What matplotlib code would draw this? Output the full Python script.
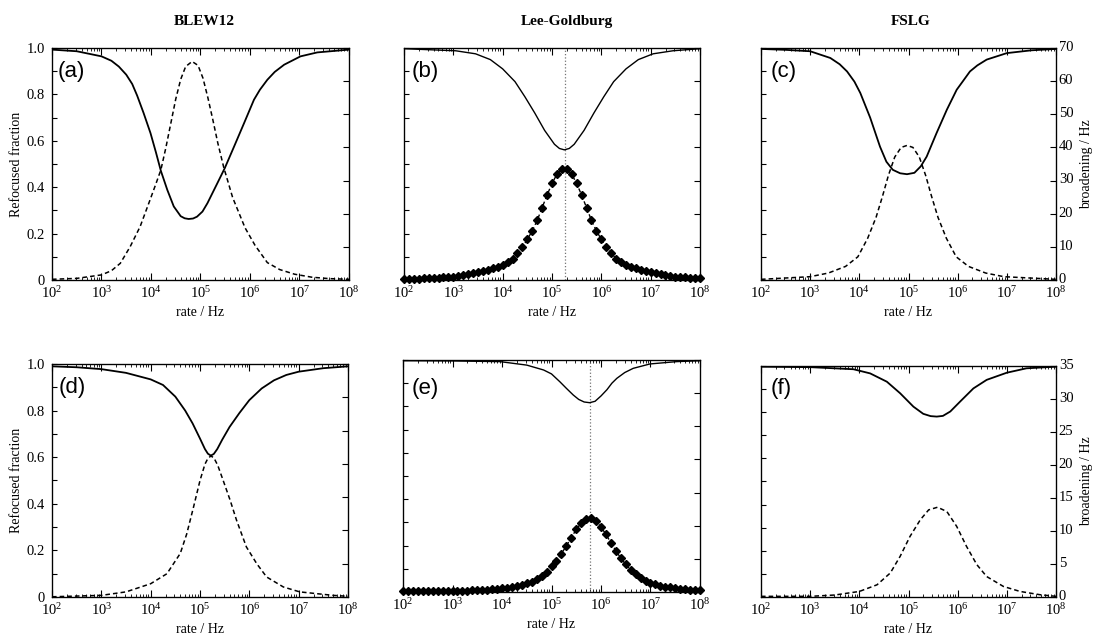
import numpy as np
import matplotlib.pyplot as plt
import matplotlib.transforms as mtransforms
from matplotlib.ticker import (MultipleLocator, LogLocator, FixedLocator, NullFormatter,
                               NullLocator, FuncFormatter)

plt.rcParams['font.family'] = ['Liberation Serif', 'DejaVu Serif']
plt.rcParams['mathtext.fontset'] = 'custom'
plt.rcParams['mathtext.rm'] = 'Liberation Serif'
plt.rcParams['mathtext.it'] = 'Liberation Serif:italic'
plt.rcParams['mathtext.bf'] = 'Liberation Serif:bold'

# x values are log10(rate / Hz)
# (a) BLEW12, top row
a_solid_u = [2.0, 2.5, 3.0, 3.2, 3.35, 3.5, 3.62, 3.72, 3.85, 3.99, 4.1, 4.2, 4.33, 4.46, 4.6,
             4.68, 4.76, 4.85, 4.93, 5.04, 5.14, 5.34, 5.49, 5.68, 5.88, 6.08, 6.2, 6.35, 6.5,
             6.69, 7.02, 7.36, 8.0]
a_solid_v = [0.993, 0.986, 0.964, 0.945, 0.92, 0.885, 0.845, 0.795, 0.72, 0.633, 0.55, 0.47, 0.388,
             0.317, 0.275, 0.266, 0.263, 0.265, 0.273, 0.295, 0.331, 0.417, 0.482, 0.576, 0.676,
             0.777, 0.82, 0.863, 0.897, 0.928, 0.964, 0.981, 0.993]
a_dash_u = [2.0, 2.5, 3.0, 3.2, 3.38, 3.58, 3.78, 3.98, 4.1, 4.2, 4.3, 4.4, 4.5, 4.6, 4.7, 4.83,
            4.95, 5.05, 5.15, 5.25, 5.35, 5.47, 5.65, 5.9, 6.1, 6.35, 6.6, 6.9, 7.25, 7.6, 8.0]
a_dash_v = [0.003, 0.007, 0.022, 0.04, 0.072, 0.144, 0.23, 0.345, 0.415, 0.475, 0.57, 0.675, 0.78,
            0.865, 0.92, 0.942, 0.925, 0.87, 0.785, 0.69, 0.59, 0.485, 0.355, 0.225, 0.15, 0.075,
            0.045, 0.025, 0.012, 0.006, 0.003]

# (b) Lee-Goldburg, top row
b_solid_u = [2.0, 3.05, 3.45, 3.75, 4.0, 4.25, 4.45, 4.65, 4.85, 5.05, 5.15, 5.25, 5.35, 5.45,
             5.65, 5.85, 6.05, 6.25, 6.5, 6.75, 7.05, 7.45, 8.0]
b_solid_v = [0.997, 0.988, 0.975, 0.95, 0.91, 0.855, 0.79, 0.72, 0.645, 0.585, 0.567, 0.561, 0.567,
             0.585, 0.645, 0.72, 0.79, 0.855, 0.91, 0.95, 0.975, 0.988, 0.997]
lg_u = np.linspace(2.0, 8.0, 61)
b_diam = [0.004, 0.004, 0.005, 0.006, 0.007, 0.008, 0.009, 0.010, 0.011, 0.013,
          0.015, 0.018, 0.021, 0.025, 0.029, 0.033, 0.038, 0.043, 0.050, 0.057,
          0.066, 0.077, 0.092, 0.115, 0.142, 0.175, 0.212, 0.257, 0.312, 0.366,
          0.416, 0.456, 0.478, 0.478, 0.456, 0.416, 0.366, 0.312, 0.257, 0.212,
          0.175, 0.142, 0.115, 0.092, 0.077, 0.066, 0.057, 0.050, 0.043, 0.038,
          0.033, 0.029, 0.025, 0.021, 0.018, 0.015, 0.013, 0.011, 0.010, 0.009, 0.008]
b_mark = 5.26

# (c) FSLG, top row (broadening in Hz)
c_solid_u = [2.0, 2.5, 3.0, 3.41, 3.6, 3.75, 3.9, 4.02, 4.22, 4.42, 4.55, 4.68, 4.83, 4.97, 5.12,
             5.25, 5.37, 5.57, 5.78, 5.98, 6.1, 6.25, 6.4, 6.59, 7.0, 7.5, 8.0]
c_solid_v = [0.996, 0.992, 0.986, 0.957, 0.93, 0.899, 0.855, 0.806, 0.70, 0.575, 0.51, 0.475, 0.46,
             0.456, 0.462, 0.49, 0.532, 0.633, 0.734, 0.82, 0.855, 0.899, 0.925, 0.95, 0.978, 0.99,
             0.996]
c_dash_u = [2.0, 3.0, 3.37, 3.72, 3.97, 4.17, 4.34, 4.47, 4.59, 4.72, 4.85, 4.97, 5.09, 5.22,
            5.35, 5.47, 5.6, 5.77, 5.97, 6.22, 6.57, 6.94, 8.0]
c_dash_hz = [0.2, 1.0, 2.1, 4.1, 7.0, 12.6, 18.9, 25.2, 31.5, 37.1, 40.0, 40.6, 40.0, 37.1, 31.5,
             25.2, 18.9, 12.6, 7.0, 4.1, 2.1, 1.0, 0.2]

# (d) BLEW12, bottom row
d_solid_u = [2.0, 2.5, 3.0, 3.5, 4.0, 4.25, 4.5, 4.7, 4.85, 5.0, 5.1, 5.16, 5.22, 5.28, 5.35,
             5.45, 5.6, 5.8, 6.0, 6.25, 6.5, 6.75, 7.0, 7.5, 8.0]
d_solid_v = [0.99, 0.986, 0.978, 0.962, 0.934, 0.91, 0.86, 0.80, 0.745, 0.68, 0.635, 0.615, 0.607,
             0.614, 0.635, 0.675, 0.73, 0.79, 0.845, 0.895, 0.93, 0.953, 0.967, 0.982, 0.99]
d_dash_u = [2.0, 3.0, 3.5, 4.0, 4.33, 4.6, 4.73, 4.87, 5.0, 5.1, 5.16, 5.22, 5.28, 5.36, 5.47,
            5.61, 5.74, 5.94, 6.15, 6.35, 6.69, 7.02, 7.7, 8.0]
d_dash_v = [0.001, 0.007, 0.022, 0.057, 0.10, 0.187, 0.27, 0.387, 0.50, 0.57, 0.595, 0.605, 0.598,
            0.565, 0.50, 0.416, 0.33, 0.215, 0.143, 0.086, 0.043, 0.022, 0.007, 0.003]

# (e) Lee-Goldburg, bottom row
e_solid_u = [2.0, 3.0, 3.96, 4.5, 4.84, 5.0, 5.17, 5.3, 5.44, 5.55, 5.66, 5.77, 5.88, 6.0, 6.12,
             6.22, 6.32, 6.48, 6.65, 6.99, 7.53, 8.0]
e_solid_v = [0.997, 0.996, 0.993, 0.978, 0.957, 0.94, 0.906, 0.878, 0.849, 0.83, 0.819, 0.816, 0.822,
             0.845, 0.872, 0.9, 0.921, 0.946, 0.964, 0.983, 0.993, 0.997]
e_diam = [0.003, 0.003, 0.003, 0.003, 0.003, 0.003, 0.004, 0.004, 0.004, 0.005,
          0.005, 0.005, 0.006, 0.006, 0.007, 0.007, 0.009, 0.010, 0.011, 0.013,
          0.016, 0.018, 0.022, 0.026, 0.031, 0.038, 0.045, 0.056, 0.070, 0.087,
          0.110, 0.135, 0.165, 0.199, 0.234, 0.270, 0.297, 0.315, 0.318, 0.305,
          0.281, 0.248, 0.213, 0.178, 0.146, 0.119, 0.095, 0.076, 0.060, 0.049,
          0.040, 0.033, 0.028, 0.023, 0.020, 0.017, 0.014, 0.012, 0.010, 0.009, 0.008]
e_mark = 5.77

# (f) FSLG, bottom row (broadening in Hz)
f_solid_u = [2.0, 3.0, 3.88, 4.22, 4.56, 4.83, 5.1, 5.3, 5.45, 5.575, 5.7, 5.85, 6.05, 6.32, 6.59,
             7.0, 7.4, 8.0]
f_solid_v = [0.997, 0.995, 0.986, 0.968, 0.932, 0.882, 0.824, 0.793, 0.783, 0.781, 0.784, 0.803,
             0.846, 0.903, 0.94, 0.971, 0.99, 0.997]
f_dash_u = [2.0, 3.0, 3.5, 4.0, 4.36, 4.63, 4.83, 5.03, 5.24, 5.41, 5.59, 5.78, 5.98, 6.18, 6.39,
            6.59, 6.93, 7.27, 7.67, 8.0]
f_dash_hz = [0.1, 0.1, 0.3, 0.84, 1.85, 3.64, 6.16, 9.17, 11.7, 13.2, 13.6, 12.95, 10.7, 7.67, 4.9,
             3.1, 1.6, 0.84, 0.35, 0.1]

titles = ['BLEW12', 'Lee-Goldburg', 'FSLG']
decades = [1e2, 1e3, 1e4, 1e5, 1e6, 1e7, 1e8]

W, H = 1093, 634
fig = plt.figure(figsize=(W / 100, H / 100), dpi=100)
lift = mtransforms.ScaledTranslation(0, 1.5 / 72, fig.dpi_scale_trans)


def rate(u):
    return 10.0 ** np.asarray(u)


def panel(box, rmax, left_lab, right_lab, tag, tagpos):
    l, t, r, b = box
    ax = fig.add_axes([l / W, 1 - b / H, (r - l) / W, (b - t) / H])
    ax.set_xscale('log')
    ax.set_xlim(1e2, 1e8)
    ax.set_ylim(0, 1)
    ax.xaxis.set_major_locator(FixedLocator(decades))
    ax.xaxis.set_minor_locator(LogLocator(base=10, subs=np.arange(2, 10), numticks=50))
    ax.xaxis.set_minor_formatter(NullFormatter())
    ax.yaxis.set_major_locator(MultipleLocator(0.2))
    ax.yaxis.set_minor_locator(MultipleLocator(0.1))
    ax.yaxis.set_major_formatter(FuncFormatter(lambda v, p: '0' if abs(v) < 1e-9 else '%.1f' % v))
    ax.tick_params(which='both', direction='in', top=True, right=False, labelsize=10.5)
    ax.tick_params(axis='x', which='major', length=5, width=0.8, pad=4)
    ax.tick_params(axis='x', which='minor', length=2.5, width=0.6)
    ax.tick_params(axis='y', which='both', length=3.5, width=0.8, pad=5, labelleft=left_lab)
    ax.set_xlabel('rate / Hz', fontsize=10, labelpad=3)
    for s in ax.spines.values():
        s.set_linewidth(0.9)
    tw = ax.twinx()
    tw.set_ylim(0, rmax)
    tw.yaxis.set_major_locator(MultipleLocator(rmax / 7))
    tw.yaxis.set_minor_locator(NullLocator())
    tw.tick_params(direction='in', length=4, width=0.8, labelsize=10.5, pad=2, labelright=right_lab)
    if right_lab:
        tw.set_ylabel('broadening / Hz', fontsize=10, labelpad=5)
        # the 0 label sits a touch above the axis in the original
        for lab in tw.get_yticklabels():
            lab.set_transform(lab.get_transform() + lift)
    if left_lab:
        ax.set_ylabel('Refocused fraction', fontsize=10, labelpad=3)
    ax.text(tagpos[0], tagpos[1], tag, transform=ax.transAxes, fontsize=16,
            family='Liberation Sans', ha='left', va='center')
    return ax, tw


solid = dict(color='k', lw=1.3, solid_capstyle='butt')
dash = dict(color='k', lw=1.1, ls=(0, (3, 2)))

# top row
ax, tw = panel((52, 48, 349, 280), 70, True, False, '(a)', (0.02, 0.897))
ax.plot(rate(a_solid_u), a_solid_v, **solid)
ax.plot(rate(a_dash_u), a_dash_v, **dash)

ax, tw = panel((404, 48, 700, 280), 70, False, False, '(b)', (0.025, 0.898))
ax.axvline(10 ** b_mark, color='0.45', ls=':', lw=0.9)
ax.plot(rate(b_solid_u), b_solid_v, color='k', lw=1.0)
ax.plot(rate(lg_u), b_diam, color='k', lw=1.0, ls=(0, (3, 2)), marker='D', ms=4,
        clip_on=False, zorder=3)

ax, tw = panel((761, 48, 1056, 280), 70, False, True, '(c)', (0.031, 0.898))
ax.plot(rate(c_solid_u), c_solid_v, **solid)
tw.plot(rate(c_dash_u), c_dash_hz, **dash)

# bottom row
ax, tw = panel((52, 364, 348, 597), 35, True, False, '(d)', (0.022, 0.898))
ax.plot(rate(d_solid_u), d_solid_v, **solid)
ax.plot(rate(d_dash_u), d_dash_v, **dash)

ax, tw = panel((403, 360, 700, 592), 35, False, False, '(e)', (0.03, 0.878))
ax.axvline(10 ** e_mark, color='0.45', ls=':', lw=0.9)
ax.plot(rate(e_solid_u), e_solid_v, color='k', lw=1.0)
ax.plot(rate(lg_u), e_diam, color='k', lw=1.0, ls=(0, (3, 2)), marker='D', ms=4,
        clip_on=False, zorder=3)

ax, tw = panel((761, 366, 1056, 597), 35, False, True, '(f)', (0.034, 0.904))
ax.plot(rate(f_solid_u), f_solid_v, **solid)
tw.plot(rate(f_dash_u), f_dash_hz, **dash)

# column titles
for x, name in zip([204, 567, 911], titles):
    fig.text(x / W, 1 - 25 / H, name, ha='center', va='baseline', fontsize=11, fontweight='bold')

fig.savefig('out.png', dpi=100)
